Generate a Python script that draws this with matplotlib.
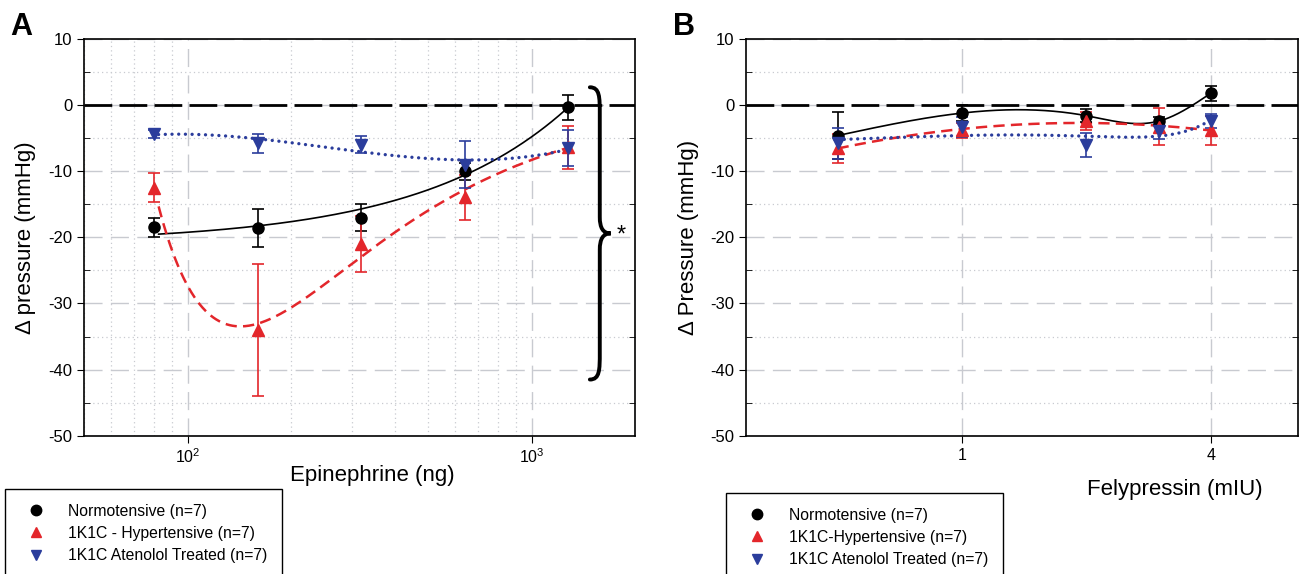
import numpy as np
import matplotlib.pyplot as plt
from matplotlib import ticker, transforms
from matplotlib.path import Path
from matplotlib.patches import PathPatch
from matplotlib.lines import Line2D

plt.rcParams['font.family'] = ['Liberation Sans', 'DejaVu Sans']
plt.rcParams['axes.unicode_minus'] = False

# --- data ---
epi_dose = [80, 160, 320, 640, 1280]          # ng
epi_norm = [-18.5, -18.6, -17.0, -10.0, -0.3]
epi_norm_err = [1.5, 2.9, 2.0, 1.3, 1.9]
epi_hyp = [-12.5, -34.0, -21.0, -13.9, -6.4]
epi_hyp_err = [2.2, 10.0, 4.2, 3.4, 3.2]
epi_ate = [-4.3, -5.8, -6.0, -9.0, -6.5]
epi_ate_err = [0.6, 1.5, 1.3, 3.6, 2.7]

fely_dose = [0.5, 1, 2, 3, 4]                 # mIU
fely_norm = [-4.6, -1.2, -1.6, -2.4, 1.8]
fely_norm_err = [3.5, 1.2, 1.0, 0.6, 1.1]
fely_hyp = [-6.5, -3.8, -2.4, -3.3, -3.8]
fely_hyp_err = [2.2, 1.1, 1.4, 2.8, 2.2]
fely_ate = [-5.8, -3.3, -6.0, -3.9, -2.4]
fely_ate_err = [2.4, 1.5, 1.8, 1.2, 1.05]

labels_a = ["Normotensive (n=7)", "1K1C - Hypertensive (n=7)", "1K1C Atenolol Treated (n=7)"]
labels_b = ["Normotensive (n=7)", "1K1C-Hypertensive (n=7)", "1K1C Atenolol Treated (n=7)"]

BLACK, RED, BLUE = "black", "#e3262b", "#2b3d9c"
GRID = "#c8cad0"


def natural_spline(xk, yk, xs):
    xk = np.asarray(xk, float); yk = np.asarray(yk, float)
    n = len(xk); h = np.diff(xk)
    A = np.zeros((n, n)); r = np.zeros(n)
    A[0, 0] = A[-1, -1] = 1
    for i in range(1, n - 1):
        A[i, i - 1], A[i, i], A[i, i + 1] = h[i - 1], 2 * (h[i - 1] + h[i]), h[i]
        r[i] = 3 * ((yk[i + 1] - yk[i]) / h[i] - (yk[i] - yk[i - 1]) / h[i - 1])
    c = np.linalg.solve(A, r)
    b = np.diff(yk) / h - h * (2 * c[:-1] + c[1:]) / 3
    d = np.diff(c) / (3 * h)
    i = np.clip(np.searchsorted(xk, xs) - 1, 0, n - 2)
    dx = xs - xk[i]
    return yk[i] + b[i] * dx + c[i] * dx ** 2 + d[i] * dx ** 3


def style_axes(ax):
    ax.set_ylim(-50, 10)
    ax.yaxis.set_major_locator(ticker.MultipleLocator(10))
    ax.yaxis.set_minor_locator(ticker.MultipleLocator(5))
    ax.tick_params(axis='y', which='major', direction='out', length=5, labelsize=12)
    ax.tick_params(axis='y', which='minor', direction='in', length=4, left=True, right=True)
    ax.tick_params(axis='x', which='major', direction='out', length=5, labelsize=11.5)
    ax.tick_params(axis='x', which='minor', length=0)
    ax.grid(which='major', axis='y', color=GRID, ls=(0, (13, 6)), lw=1.0)
    ax.grid(which='minor', axis='y', color=GRID, ls=(0, (1, 2.5)), lw=0.9)
    ax.grid(which='major', axis='x', color=GRID, ls=(0, (13, 6)), lw=1.0)
    ax.axhline(0, color='black', ls=(0, (10, 2.6)), lw=2.0, zorder=2)
    ax.set_axisbelow(True)
    for sp in ax.spines.values():
        sp.set_linewidth(1.2)


def draw_points(ax, x, series):
    for y, e, col, mk in series:
        ax.errorbar(x, y, yerr=e, fmt=mk, color=col, ms=8, elinewidth=1.2,
                    capsize=4.5, capthick=1.2, ls='none', zorder=4)


fig = plt.figure(figsize=(13, 5.74), dpi=100)
axA = fig.add_axes([0.0646, 0.2409, 0.4239, 0.6911])
axB = fig.add_axes([0.5738, 0.2409, 0.4246, 0.6911])

# ---------- panel A ----------
x = np.asarray(epi_dose, float)
axA.set_xscale('log')
axA.set_xlim(50, 2000)
axA.xaxis.set_major_locator(ticker.LogLocator(base=10, numticks=10))
axA.xaxis.set_minor_locator(ticker.LogLocator(base=10, subs=np.arange(2, 10), numticks=20))
axA.xaxis.set_minor_formatter(ticker.NullFormatter())
axA.grid(which='minor', axis='x', color=GRID, ls=(0, (1, 2.5)), lw=0.9)
style_axes(axA)

xs = np.geomspace(x[0] * 1.03, x[-1], 300)
p = np.polyfit(x, epi_norm, 1)
axA.plot(xs, np.polyval(p, xs), color=BLACK, lw=1.2, zorder=3)
M = np.column_stack([np.ones_like(x), 1 / x, 1 / x ** 2])
coef = np.linalg.lstsq(M, np.asarray(epi_hyp), rcond=None)[0]
axA.plot(xs, coef[0] + coef[1] / xs + coef[2] / xs ** 2, color=RED, lw=1.8,
         ls=(0, (4.5, 2.5)), zorder=3)
p = np.polyfit(np.log10(x), epi_ate, 3)
axA.plot(xs, np.polyval(p, np.log10(xs)), color=BLUE, lw=2.4, ls=(0, (0.01, 2.0)),
         dash_capstyle='round', zorder=3)
draw_points(axA, x, [(epi_norm, epi_norm_err, BLACK, 'o'),
                     (epi_hyp, epi_hyp_err, RED, '^'),
                     (epi_ate, epi_ate_err, BLUE, 'v')])
axA.set_ylabel("\u0394 pressure (mmHg)", fontsize=16)
axA.yaxis.set_label_coords(-0.087, 0.5)

# significance brace
top, bot, mid = 2.7, -41.5, -19.4
xl, xm, xt = 0.918, 0.936, 0.956
verts = [(xl, top), (xm, top), (xm, top - 1.5), (xm, top - 4),
         (xm, mid + 2.5),
         (xm, mid + 0.8), (xm + 0.006, mid), (xt, mid),
         (xm + 0.006, mid), (xm, mid - 0.8), (xm, mid - 2.5),
         (xm, bot + 4),
         (xm, bot + 1.5), (xm, bot), (xl, bot)]
codes = [Path.MOVETO, Path.CURVE4, Path.CURVE4, Path.CURVE4,
         Path.LINETO,
         Path.CURVE4, Path.CURVE4, Path.CURVE4,
         Path.CURVE4, Path.CURVE4, Path.CURVE4,
         Path.LINETO,
         Path.CURVE4, Path.CURVE4, Path.CURVE4]
trans = transforms.blended_transform_factory(axA.transAxes, axA.transData)
axA.add_patch(PathPatch(Path(verts, codes), fill=False, lw=2.8, color='black',
                        transform=trans, capstyle='round', zorder=5))
axA.text(0.975, mid - 0.3, "*", transform=trans, fontsize=17, ha='center', va='center', zorder=5)

# ---------- panel B ----------
xb = np.asarray(fely_dose, float)
axB.set_xscale('log')
axB.set_xlim(0.3, 6.5)
axB.xaxis.set_major_locator(ticker.FixedLocator([1, 4]))
axB.xaxis.set_major_formatter(ticker.FixedFormatter(["1", "4"]))
axB.xaxis.set_minor_locator(ticker.NullLocator())
style_axes(axB)

xsb = np.geomspace(xb[0], xb[-1], 300)
ub = np.log10(xb)
axB.plot(xsb, natural_spline(ub, fely_norm, np.log10(xsb)), color=BLACK, lw=1.2, zorder=3)
p = np.polyfit(ub, fely_hyp, 2)
axB.plot(xsb, np.polyval(p, np.log10(xsb)), color=RED, lw=1.8, ls=(0, (4.5, 2.5)), zorder=3)
p = np.polyfit(xb, fely_ate, 3)
axB.plot(xsb, np.polyval(p, xsb), color=BLUE, lw=2.4, ls=(0, (0.01, 2.0)),
         dash_capstyle='round', zorder=3)
draw_points(axB, xb, [(fely_norm, fely_norm_err, BLACK, 'o'),
                      (fely_hyp, fely_hyp_err, RED, '^'),
                      (fely_ate, fely_ate_err, BLUE, 'v')])
axB.set_ylabel("\u0394 Pressure (mmHg)", fontsize=16)
axB.yaxis.set_label_coords(-0.085, 0.5)

# ---------- labels, letters, legends ----------
fig.text(372 / 1300, 1 - 476 / 574, "Epinephrine (ng)", fontsize=16, ha='center', va='center')
fig.text(1175 / 1300, 1 - 490 / 574, "Felypressin (mIU)", fontsize=16, ha='center', va='center')
fig.text(10 / 1300, 1 - 35 / 574, "A", fontsize=22, fontweight='bold', ha='left', va='baseline')
fig.text(673 / 1300, 1 - 35 / 574, "B", fontsize=22, fontweight='bold', ha='left', va='baseline')

handles = [Line2D([], [], ls='none', marker=m, color=c, ms=7.5)
           for m, c in [('o', BLACK), ('^', RED), ('v', BLUE)]]
for labs, x0, y0 in [(labels_a, 5, 489), (labels_b, 726, 493)]:
    leg = fig.legend(handles, labs, loc='upper left',
                     bbox_to_anchor=(x0 / 1300, 1 - y0 / 574, 277 / 1300, 0),
                     bbox_transform=fig.transFigure, mode='expand', fontsize=11.3,
                     frameon=True, fancybox=False, edgecolor='black', framealpha=1,
                     borderpad=0.95, labelspacing=0.45, handlelength=2.1, handletextpad=0.95,
                     borderaxespad=0)
    leg.get_frame().set_linewidth(1.0)

fig.savefig("out.png", dpi=100)
